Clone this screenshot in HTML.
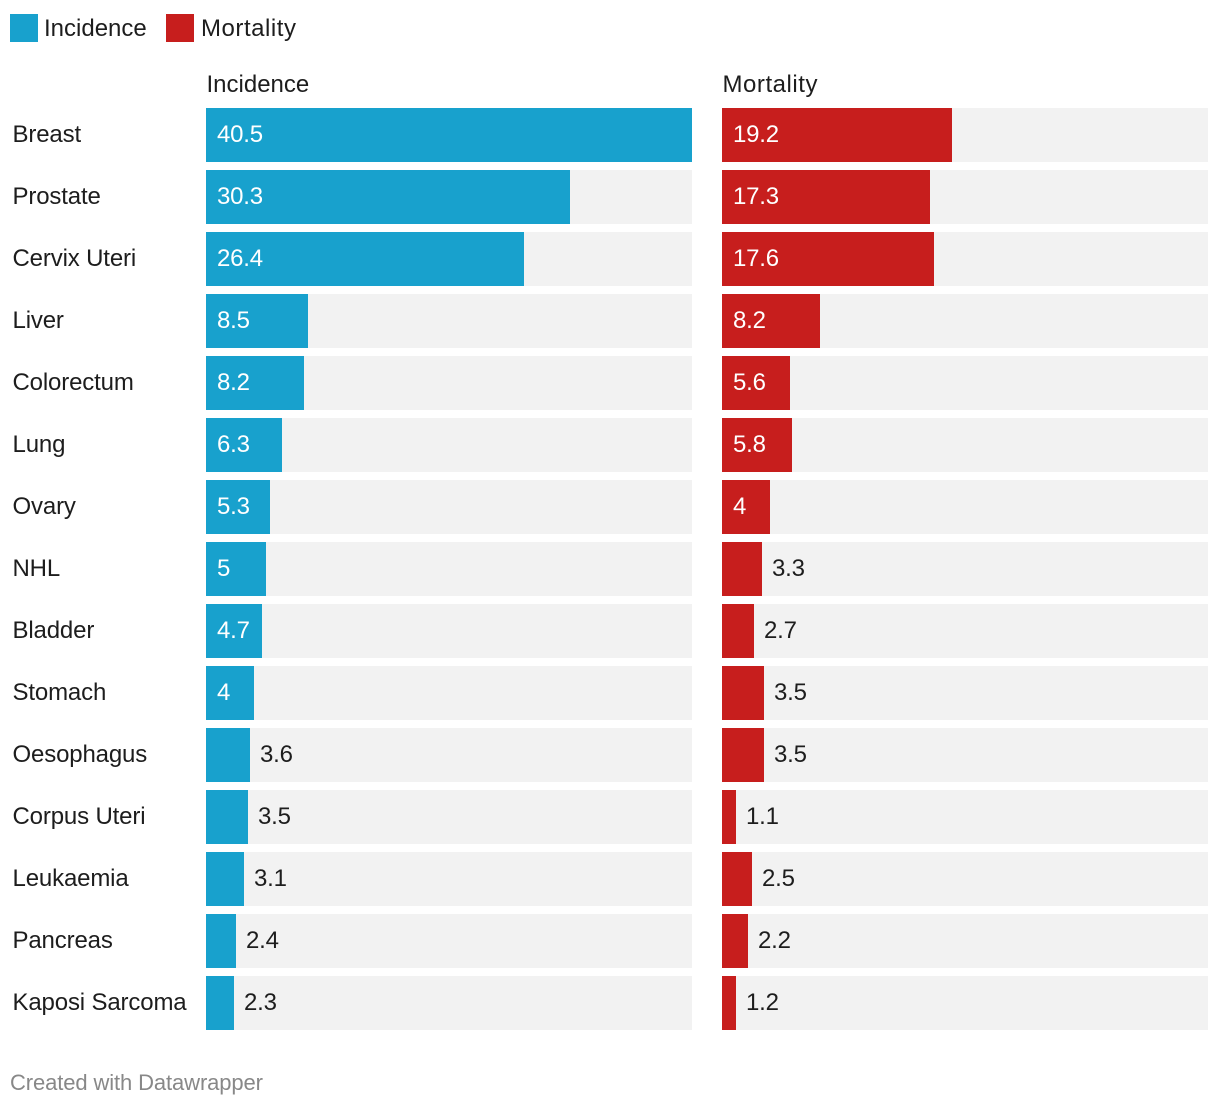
<!DOCTYPE html>
<html lang="en">
<head>
<meta charset="utf-8">
<title>Cancer incidence and mortality</title>
<style>
html,body{margin:0;padding:0;background:#fff;width:1220px;height:1106px;overflow:hidden}
svg{display:block}
text{font-family:"Liberation Sans",sans-serif;font-size:24px;fill:#1d1d1d}
</style>
</head>
<body>
<svg id="chart" xmlns="http://www.w3.org/2000/svg" width="1220" height="1106" viewBox="0 0 1220 1106">
  <rect x="10" y="14" width="28" height="28" fill="#18a1cd"/>
  <text x="44" y="36">Incidence</text>
  <rect x="166" y="14" width="28" height="28" fill="#c71e1d"/>
  <text x="201" y="36" textLength="95">Mortality</text>
  <text x="206.5" y="92">Incidence</text>
  <text x="722.5" y="92" textLength="95">Mortality</text>
  <g id="rows"></g>
  <text x="10" y="1090" textLength="253" style="font-size:22px;fill:#888888">Created with Datawrapper</text>
</svg>
<script>
const categories = ["Breast","Prostate","Cervix Uteri","Liver","Colorectum","Lung","Ovary","NHL","Bladder","Stomach","Oesophagus","Corpus Uteri","Leukaemia","Pancreas","Kaposi Sarcoma"];
const incidence = [40.5,30.3,26.4,8.5,8.2,6.3,5.3,5,4.7,4,3.6,3.5,3.1,2.4,2.3];
const mortality = [19.2,17.3,17.6,8.2,5.6,5.8,4,3.3,2.7,3.5,3.5,1.1,2.5,2.2,1.2];

const NS = "http://www.w3.org/2000/svg";
const rowsGroup = document.getElementById("rows");
const domainMax = Math.max(...incidence, ...mortality);
const trackWidth = 486;
const rowTop = 108, rowPitch = 62, rowHeight = 54;

function xScale(v) {
  return Math.floor(v / domainMax * trackWidth / 2 + 0.61) * 2;
}
function yScale(i) {
  return rowTop + i * rowPitch;
}
function slug(s) {
  return s.toLowerCase().replace(/\s+/g, "-");
}

function drawBar(seriesName, x0, color, value, i) {
  const y = yScale(i);
  const track = document.createElementNS(NS, "rect");
  
  
  track.setAttribute("x", x0);
  track.setAttribute("y", y);
  track.setAttribute("width", trackWidth);
  track.setAttribute("height", rowHeight);
  track.setAttribute("fill", "#f2f2f2");
  rowsGroup.appendChild(track);

  const w = xScale(value);
  const bar = document.createElementNS(NS, "rect");
  
  
  bar.setAttribute("x", x0);
  bar.setAttribute("y", y);
  bar.setAttribute("width", w);
  bar.setAttribute("height", rowHeight);
  bar.setAttribute("fill", color);
  rowsGroup.appendChild(bar);

  const label = document.createElementNS(NS, "text");
  
  
  label.setAttribute("y", y + 34);
  label.style.letterSpacing = "-0.2px";
  label.textContent = String(value);
  rowsGroup.appendChild(label);
  const inside = w >= label.getComputedTextLength() + 20;
  label.setAttribute("x", x0 + (inside ? 11 : w + 10));
  label.style.fill = inside ? "#ffffff" : "#1d1d1d";
}

categories.forEach(function (name, i) {
  const label = document.createElementNS(NS, "text");
  
  
  label.setAttribute("x", 12.5);
  label.setAttribute("y", yScale(i) + 34);
  label.style.letterSpacing = "-0.15px";
  label.textContent = name;
  rowsGroup.appendChild(label);
  drawBar("incidence", 206, "#18a1cd", incidence[i], i);
  drawBar("mortality", 722, "#c71e1d", mortality[i], i);
});
</script>
</body>
</html>
